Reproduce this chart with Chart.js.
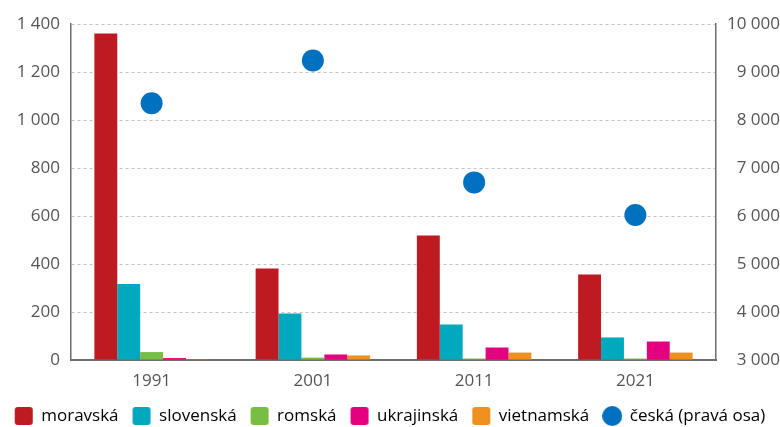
<!DOCTYPE html>
<html lang="cs">
<head>
<meta charset="UTF-8">
<title>Národnost</title>
<script src="https://cdn.jsdelivr.net/npm/chart.js"></script>
<style>
  html, body { margin: 0; padding: 0; background: #fff; }
  #wrap { width: 780px; height: 427px; }
</style>
</head>
<body>
<div id="wrap"><canvas id="chart"></canvas></div>
<script>
// data
const years = ['1991', '2001', '2011', '2021'];
const moravska = [1360, 381, 519, 356];
const slovenska = [317, 194, 148, 94];
const romska = [33, 10, 6, 6];
const ukrajinska = [8, 23, 52, 77];
const vietnamska = [3, 19, 31, 31];
const ceska = [8350, 9240, 6700, 6020];   // right axis

const leftTicks = [0, 200, 400, 600, 800, 1000, 1200, 1400];
const rightTicks = [3000, 4000, 5000, 6000, 7000, 8000, 9000, 10000];

const fontFamily = '"Open Sans", "Noto Sans", sans-serif';
const tickColor = '#555';

function fmt(v) {
    return String(v).replace(/\B(?=(\d{3})+(?!\d))/g, ' ');
}

// small canvases used as legend markers
function marker(color, round) {
    const c = document.createElement('canvas');
    c.width = 20; c.height = 20;
    const g = c.getContext('2d');
    g.fillStyle = color;
    g.beginPath();
    if (round) {
        g.arc(10, 10, 10, 0, Math.PI * 2);
    } else {
        g.roundRect(1, 1, 18, 18, 3);
    }
    g.fill();
    return c;
}

function barSet(label, data, color) {
    return {
        label: label,
        data: data,
        backgroundColor: color,
        borderWidth: 0,
        yAxisID: 'y',
        categoryPercentage: 0.71,
        barPercentage: 1.0,
        order: 2
    };
}

const datasets = [
    barSet('moravská', moravska, '#be1a21'),
    barSet('slovenská', slovenska, '#00a9bd'),
    barSet('romská', romska, '#76bf43'),
    barSet('ukrajinská', ukrajinska, '#e4007e'),
    barSet('vietnamská', vietnamska, '#f0901e'),
    {
        type: 'line',
        label: 'česká (pravá osa)',
        data: ceska,
        yAxisID: 'y1',
        showLine: false,
        pointRadius: 11,
        pointHoverRadius: 11,
        pointBackgroundColor: '#0070c0',
        pointBorderWidth: 0,
        backgroundColor: '#0070c0',
        order: 1
    }
];

const chart = new Chart(document.getElementById('chart'), {
    type: 'bar',
    data: { labels: years, datasets: datasets },
    options: {
        responsive: true,
        maintainAspectRatio: false,
        animation: false,
        layout: { padding: { top: 24, left: 0, right: 0, bottom: 0 } },
        plugins: {
            tooltip: { enabled: false },
            legend: {
                position: 'bottom',
                labels: {
                    usePointStyle: true,
                    boxHeight: 18,
                    pointStyleWidth: 18,
                    padding: 14,
                    color: '#333',
                    font: { family: fontFamily, size: 17 },
                    generateLabels: function(ch) {
                        return ch.data.datasets.map(function(ds, i) {
                            return {
                                text: ds.label,
                                pointStyle: marker(ds.backgroundColor, ds.type === 'line'),
                                fillStyle: ds.backgroundColor,
                                strokeStyle: ds.backgroundColor,
                                lineWidth: 0,
                                hidden: false,
                                datasetIndex: i
                            };
                        });
                    }
                }
            }
        },
        scales: {
            x: {
                afterFit: function(s) { s.height = 33.5; },
                grid: { display: false, drawTicks: false },
                border: { color: '#6d6d6d', width: 2 },
                ticks: { color: tickColor, padding: 11, font: { family: fontFamily, size: 17 } }
            },
            y: {
                position: 'left',
                min: 0,
                max: 1400,
                afterBuildTicks: function(s) { s.ticks = leftTicks.map(v => ({ value: v })); },
                afterFit: function(s) { s.width = 71; },
                grid: { color: '#c4c4c4', lineWidth: 1, drawTicks: false },
                border: { color: '#6d6d6d', width: 1.5, dash: [3, 3], display: true },
                ticks: {
                    color: tickColor,
                    padding: 11,
                    font: { family: fontFamily, size: 17 },
                    callback: function(v) { return fmt(v); }
                }
            },
            y1: {
                position: 'right',
                min: 3000,
                max: 10000,
                afterBuildTicks: function(s) { s.ticks = rightTicks.map(v => ({ value: v })); },
                afterFit: function(s) { s.width = 64; },
                grid: { display: false, drawTicks: false },
                border: { color: '#6d6d6d', width: 1.5 },
                ticks: {
                    color: tickColor,
                    padding: 8,
                    crossAlign: 'far',
                    font: { family: fontFamily, size: 17 },
                    callback: function(v) { return fmt(v); }
                }
            }
        }
    }
});

// shorter legend block so it sits low, like the reference
const legendFit = chart.legend.fit;
chart.legend.fit = function() {
    legendFit.call(this);
    this.height = 33.5;
};
chart.update();
</script>
</body>
</html>
